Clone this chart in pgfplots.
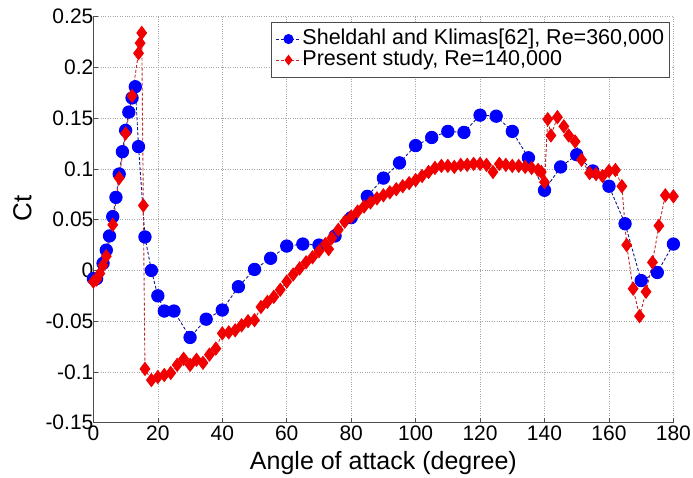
\documentclass[border=0pt]{standalone}
\usepackage{fontspec}
\setmainfont{Liberation Sans}
\usepackage{pgfplots}
\pgfplotsset{compat=1.18}
\definecolor{mblue}{RGB}{0,0,255}
\definecolor{mbline}{RGB}{20,20,140}
\definecolor{mred}{RGB}{240,0,0}
\definecolor{mrline}{RGB}{190,40,40}
\begin{document}
\begin{tikzpicture}[x=1pt,y=1pt]
\path[use as bounding box] (-93.4,-54.3) rectangle (599.6,422.7);
\begin{axis}[
  at={(0,0)}, anchor=south west,
  scale only axis, width=580pt, height=406pt,
  xmin=0, xmax=180, ymin=-0.15, ymax=0.25,
  xtick={0,20,40,60,80,100,120,140,160,180},
  xticklabels={0,20,40,60,80,100,120,140,160,180},
  ytick={-0.15,-0.1,-0.05,0,0.05,0.1,0.15,0.2,0.25},
  yticklabels={-0.15,-0.1,-0.05,0,0.05,0.1,0.15,0.2,0.25},
  axis x line*=bottom, axis y line*=left,
  tick align=inside, major tick length=5pt,
  grid=major,
  major grid style={dotted, gray!70, line width=0.6pt},
  axis line style={gray!60!black, line width=0.8pt},
  tick style={gray!60!black, line width=0.6pt},
  ticklabel style={font=\fontsize{21}{21}\selectfont},
  yticklabel style={xshift=3.5pt},
  xlabel={Angle of attack (degree)},
  ylabel={Ct},
  xlabel style={font=\fontsize{25}{25}\selectfont, at={(rel axis cs:0.5,0)}, anchor=base, yshift=-46.5pt},
  ylabel style={font=\fontsize{26}{26}\selectfont, at={(rel axis cs:-0.1222,0.5276)}, anchor=center},
  legend style={at={(rel axis cs:1,1)}, anchor=north east, xshift=-4pt, yshift=-5pt,
    font=\fontsize{21.5}{22}\selectfont, draw=gray!60!black, line width=0.7pt,
    inner xsep=4pt, inner ysep=7pt, row sep=1pt,
    nodes={inner xsep=1pt, inner ysep=0pt, text height=15.5pt, text depth=4.5pt}, legend cell align=left},
  legend image code/.code={\draw[#1, mark=none] (0pt,0pt) -- (25pt,0pt);
    \draw[#1, only marks, mark size=4.6pt] plot coordinates {(12.5pt,0pt)};},
]
\addplot[mbline, densely dashed, line width=0.9pt, mark=*, mark size=6.2pt,
  mark options={solid, fill=mblue, draw=mblue}] coordinates {
(0,-0.008) (1,-0.008) (3,0.007) (4,0.020) (5,0.034) (6,0.053) (7,0.072) (8,0.095)
(9,0.117) (10,0.138) (11,0.156) (12,0.170) (13,0.181) (14,0.122) (16,0.033)
(18,0.000) (20,-0.025) (22,-0.040) (25,-0.040) (30,-0.066) (35,-0.048) (40,-0.039)
(45,-0.016) (50,0.001) (55,0.012) (60,0.024) (65,0.026) (70,0.025) (75,0.034)
(80,0.052) (85,0.073) (90,0.091) (95,0.106) (100,0.123) (105,0.131) (110,0.137)
(115,0.136) (120,0.153) (125,0.152) (130,0.137) (135,0.111) (140,0.079) (145,0.102)
(150,0.114) (155,0.098) (160,0.083) (165,0.046) (170,-0.010) (175,-0.002) (180,0.026)
};
\addlegendentry{Sheldahl and Klimas[62], Re=360,000}
\addplot[mrline, densely dashed, line width=0.9pt, mark=diamond*, mark size=6.5pt,
  mark options={solid, fill=mred, draw=mred}] coordinates {
(0,-0.011) (1,-0.009) (2,-0.003) (3,0.005) (4,0.014) (6,0.045) (8,0.091) (10,0.135)
(12,0.172) (14,0.214) (14.5,0.224) (15,0.234) (15.5,0.064) (16,-0.097) (18,-0.108)
(20,-0.105) (22,-0.103) (24,-0.101) (26,-0.093) (28,-0.087) (30,-0.093) (32,-0.088)
(34,-0.091) (36,-0.083) (38,-0.077) (40,-0.062) (42,-0.061) (44,-0.059) (46,-0.054)
(48,-0.050) (50,-0.049) (52,-0.036) (54,-0.031) (56,-0.026) (58,-0.019) (60,-0.011)
(62,-0.004) (64,0.002) (66,0.008) (68,0.013) (70,0.019) (72,0.026) (73,0.021)
(74,0.032) (76,0.040) (78,0.048) (80,0.053) (82,0.058) (84,0.063) (86,0.067)
(88,0.071) (90,0.074) (92,0.077) (94,0.080) (96,0.083) (98,0.086) (100,0.089)
(102,0.093) (104,0.097) (106,0.101) (108,0.103) (110,0.103) (112,0.102) (114,0.104)
(116,0.104) (118,0.105) (120,0.105) (122,0.104) (124,0.097) (126,0.105) (128,0.104)
(130,0.103) (132,0.103) (134,0.102) (136,0.101) (138,0.099) (139,0.097) (140,0.087)
(141,0.149) (142,0.133) (144,0.151) (146,0.142) (147.5,0.133) (149.5,0.127)
(151.5,0.109) (154,0.096) (156,0.095) (158,0.093) (160,0.098) (162,0.099) (164,0.083)
(165.5,0.025) (167.5,-0.018) (169.5,-0.045) (171.5,-0.021) (173.5,0.008) (175.5,0.044)
(177.5,0.074) (180,0.073)
};
\addlegendentry{Present study, Re=140,000}
\end{axis}
\end{tikzpicture}
\end{document}
